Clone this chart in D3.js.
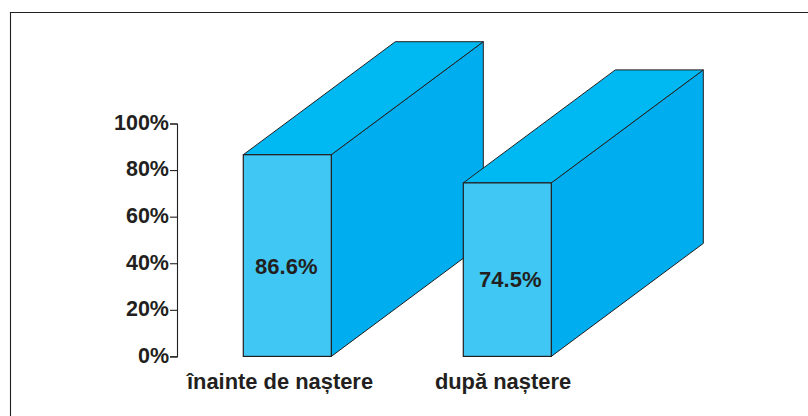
<!DOCTYPE html>
<html><head><meta charset="utf-8">
<style>html,body{margin:0;padding:0;background:#fff}svg{display:block}text{font-family:"Liberation Sans",Arial,sans-serif;font-weight:700;fill:#231f20}</style>
<script src="https://cdn.jsdelivr.net/npm/d3@7/dist/d3.min.js"></script>
</head><body><svg id="c" width="808" height="416"></svg>
<script>
const categories = ["înainte de naștere", "după naștere"];
const values = [86.6, 74.5];
const valueLabels = ["86.6%", "74.5%"];
const tickValues = [0, 20, 40, 60, 80, 100];

const svg = d3.select("#c");
// frame
svg.append("path").attr("d","M10.5,416V12.5H808").attr("fill","none").attr("stroke","#231f20").attr("stroke-width",1.1);

const y = d3.scaleLinear().domain([0,100]).range([356.4,123.5]);
const x = d3.scaleBand().domain(categories).range([243.3,551.3]).paddingInner(0.6).paddingOuter(0);
const dx = 152, dy = -113;
const ink = "#231f20";

const g = svg.append("g").attr("stroke",ink).attr("stroke-width",1).attr("stroke-linejoin","miter");
categories.forEach((c,i)=>{
  const l = x(c), r = l + x.bandwidth(), t = y(values[i]), b = y(0);
  const poly = pts => "M" + pts.map(p=>p.join(",")).join("L") + "Z";
  g.append("path").attr("d",poly([[r,t],[r+dx,t+dy],[r+dx,b+dy],[r,b]])).attr("fill","#00aeef");
  g.append("path").attr("d",poly([[l,t],[l+dx,t+dy],[r+dx,t+dy],[r,t]])).attr("fill","#00b9f2");
  g.append("rect").attr("x",l).attr("y",t).attr("width",r-l).attr("height",b-t).attr("fill","#40c7f4").attr("stroke-width",1.2);
});
// value labels
svg.selectAll("text.v").data(values).join("text").attr("class","v")
  .attr("x",(d,i)=>[286.3,510.3][i]).attr("y",(d,i)=>[274,287][i])
  .attr("text-anchor","middle").attr("font-size",22).text((d,i)=>valueLabels[i]);

// axis
const axis = d3.axisLeft(y).tickValues(tickValues).tickSize(7).tickPadding(0).tickFormat(d=>d+"%");
const ag = svg.append("g").attr("transform","translate(177,0)").call(axis);
ag.selectAll("path,line").attr("stroke",ink).attr("stroke-width",1.1);
ag.selectAll("text").attr("font-size",21.5).attr("fill",ink).attr("font-family",'"Liberation Sans",Arial,sans-serif').attr("font-weight",700).attr("dy","0.27em").attr("x",-8);

// category labels
svg.selectAll("text.c").data(categories).join("text").attr("class","c")
  .attr("x",(d,i)=>[280,503][i]).attr("y",389)
  .attr("text-anchor","middle").attr("font-size",21.9).text(d=>d);
</script></body></html>
